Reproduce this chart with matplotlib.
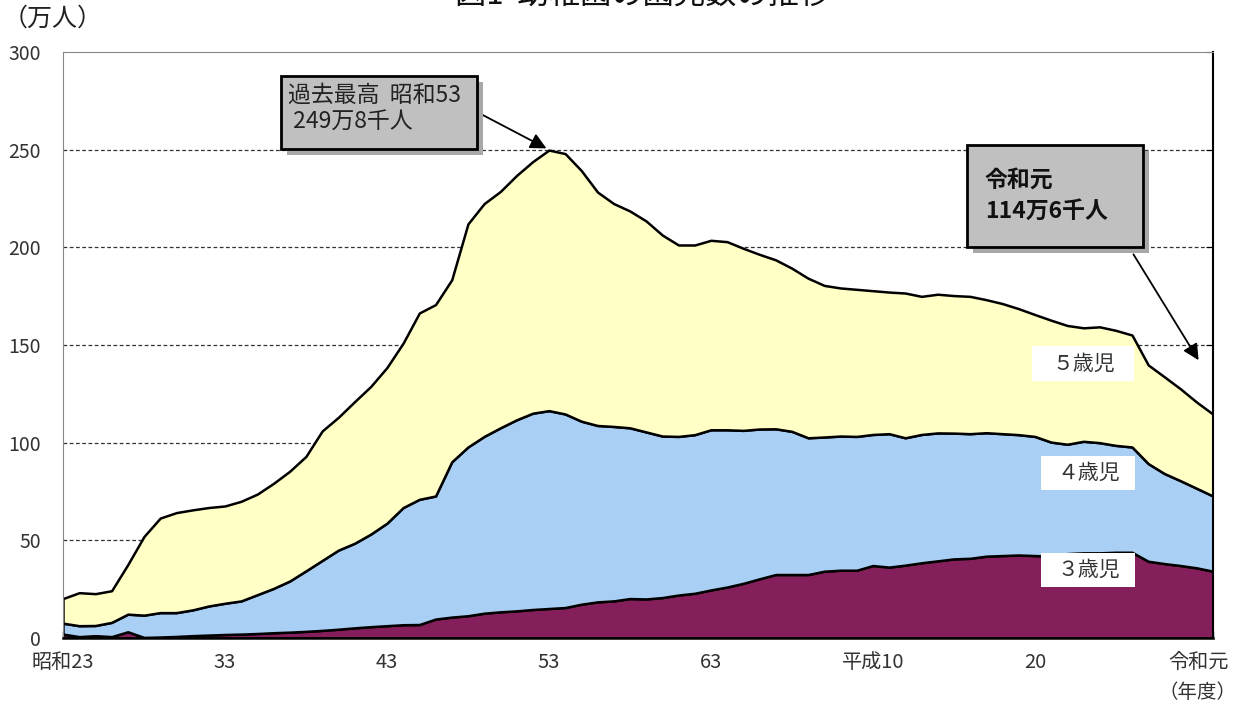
import numpy as np
import matplotlib.pyplot as plt
from matplotlib.patches import Rectangle
from matplotlib.transforms import ScaledTranslation

plt.rcParams['font.family'] = ['Noto Sans CJK JP', 'DejaVu Sans']

# 昭和23 (1948) .. 令和元 (2019), 万人
years = list(range(1948, 2020))

age3 = [2.0, 0.7, 1.2, 0.7, 3.2, 0.3, 0.5, 0.8, 1.2, 1.5,
        1.8, 2.0, 2.3, 2.7, 3.0, 3.4, 3.9, 4.5, 5.2, 5.8,
        6.3, 6.8, 6.9, 9.7, 10.7, 11.4, 12.7, 13.4, 13.9, 14.6,
        15.1, 15.6, 17.3, 18.5, 19.0, 20.2, 20.0, 20.7, 22.0, 22.9,
        24.6, 26.1, 28.0, 30.3, 32.5, 32.5, 32.5, 34.2, 34.7, 34.7,
        37.1, 36.3, 37.3, 38.5, 39.5, 40.5, 40.8, 41.9, 42.2, 42.5,
        42.2, 41.9, 43.2, 43.6, 43.6, 43.9, 43.9, 39.3, 38.1, 37.1,
        35.9, 34.2]
age4 = [5.6, 5.6, 5.2, 7.3, 9.0, 11.4, 12.5, 12.2, 13.2, 14.9,
        16.0, 17.0, 19.9, 22.7, 26.2, 31.0, 35.8, 40.5, 43.3, 47.4,
        52.5, 60.0, 64.1, 63.0, 79.5, 86.4, 90.5, 94.2, 97.8, 100.5,
        101.3, 99.1, 93.7, 90.3, 89.3, 87.4, 85.5, 82.7, 81.2, 81.2,
        82.0, 80.5, 78.3, 76.7, 74.6, 73.3, 70.0, 68.7, 68.7, 68.5,
        67.1, 68.3, 65.2, 65.7, 65.5, 64.4, 63.8, 63.2, 62.4, 61.6,
        61.0, 58.4, 56.0, 57.1, 56.4, 54.7, 53.9, 50.0, 46.1, 43.4,
        40.7, 38.5]
age5 = [12.6, 16.9, 16.3, 16.2, 25.4, 40.3, 48.4, 51.2, 51.2, 50.4,
        49.8, 51.0, 51.5, 53.8, 56.2, 58.6, 66.3, 68.0, 72.5, 75.6,
        79.7, 84.2, 95.4, 98.0, 93.2, 114.2, 119.2, 121.0, 125.1, 128.8,
        133.4, 133.3, 128.3, 119.5, 114.1, 111.0, 108.0, 102.9, 98.0, 97.1,
        97.0, 96.3, 93.2, 89.4, 86.5, 83.5, 81.7, 77.6, 75.8, 75.3,
        73.6, 72.5, 74.1, 70.7, 71.0, 70.4, 70.3, 68.1, 66.6, 64.5,
        62.4, 62.4, 60.8, 58.1, 59.3, 58.9, 57.3, 50.5, 49.5, 47.0,
        44.1, 41.9]

tick_pos = [0, 10, 20, 30, 40, 50, 60, 71]
tick_labels = ['昭和23', '33', '43', '53', '63', '平成10', '20', '令和元']
series_labels = ['３歳児', '４歳児', '５歳児']
colors = ['#841f5c', '#aacff5', '#ffffc6']

x = np.arange(len(years))

fig = plt.figure(figsize=(12.39, 7.11), dpi=100)
ax = fig.add_axes([63/1239, 73/711, 1150/1239, 586/711])

for v in [50, 100, 150, 200, 250]:
    ax.axhline(v, color='#333333', lw=0.9, ls=(0, (3, 2)), zorder=0)

ax.stackplot(x, age3, age4, age5, colors=colors,
             edgecolor='black', linewidth=1.8, zorder=2)

ax.set_xlim(0, 71)
ax.set_ylim(0, 300)
ax.set_yticks(range(0, 301, 50))
ax.tick_params(axis='y', left=False, right=True, direction='in', length=5,
               pad=16, labelsize=14, labelcolor='#333333')
ax.set_xticks(tick_pos)
ax.set_xticklabels(tick_labels)
ax.set_xticks(x, minor=True)
ax.tick_params(axis='x', which='both', direction='in', length=5, width=1,
               pad=10, labelsize=14.5, labelcolor='#333333')
lbl = ax.get_xticklabels()[-1]
lbl.set_transform(lbl.get_transform() + ScaledTranslation(-0.15, 0, fig.dpi_scale_trans))

ax.spines['left'].set_color('#888888')
ax.spines['top'].set_color('#888888')
ax.spines['bottom'].set_linewidth(1.8)
ax.spines['right'].set_linewidth(1.5)

# series labels (white boxes)
label_x = [63.3, 63.3, 63.0]
label_y = [34.8, 84.5, 140.5]
box_w = [5.8, 5.8, 6.3]
for name, xv, yv, bw in zip(series_labels, label_x, label_y, box_w):
    ax.add_patch(Rectangle((xv - bw / 2, yv - 8.9), bw, 17.8, fc='white',
                           ec='none', zorder=4))
    ax.text(xv, yv, name, ha='center', va='center', fontsize=15,
            color='#333333', zorder=5)

# callout boxes
def callout(x0, y0, w, h):
    X0, Y0 = x0 / 1239, 1 - (y0 + h) / 711
    W, H = w / 1239, h / 711
    fig.patches.append(Rectangle((X0 + 6/1239, Y0 - 6/711), W, H,
                                 transform=fig.transFigure, fc='#a8a8a8',
                                 ec='none', zorder=6))
    fig.patches.append(Rectangle((X0, Y0), W, H, transform=fig.transFigure,
                                 fc='#c0c0c0', ec='black', lw=2, zorder=7))
    return X0, Y0, W, H

X0, Y0, W, H = callout(281, 76, 196, 73)
fig.text(X0 + 7/1239, Y0 + H - 8/711, '過去最高  昭和53\n 249万8千人',
         ha='left', va='top', fontsize=16.5, color='#222222',
         linespacing=1.15, zorder=8)
ax.annotate('', xy=(30, 250), xycoords='data',
            xytext=(477/1239, 1 - 112/711), textcoords='figure fraction',
            arrowprops=dict(arrowstyle='-|>', color='black', lw=1.3,
                            mutation_scale=24), zorder=8)

X0, Y0, W, H = callout(967, 145, 176, 102)
fig.text(X0 + 18/1239, Y0 + H - 24/711, '令和元\n114万6千人',
         ha='left', va='top', fontsize=16.5, color='#111111',
         linespacing=1.45, fontweight='bold', zorder=8)
ax.annotate('', xy=(70.2, 141), xycoords='data',
            xytext=(1132/1239, 1 - 252/711), textcoords='figure fraction',
            arrowprops=dict(arrowstyle='-|>', color='black', lw=1.3,
                            mutation_scale=24), zorder=8)

fig.text(3/1239, 1 - 19/711, '（万人）', ha='left', va='center',
         fontsize=18, color='#222222')
fig.text(1198/1239, 1 - 693/711, '（年度）', ha='center', va='center',
         fontsize=14, color='#333333')
fig.text(643/1239, 1 - 4/711, '図1  幼稚園の園児数の推移', ha='center',
         va='baseline', fontsize=22.5, color='#111111')

fig.savefig('out.png', dpi=100)
